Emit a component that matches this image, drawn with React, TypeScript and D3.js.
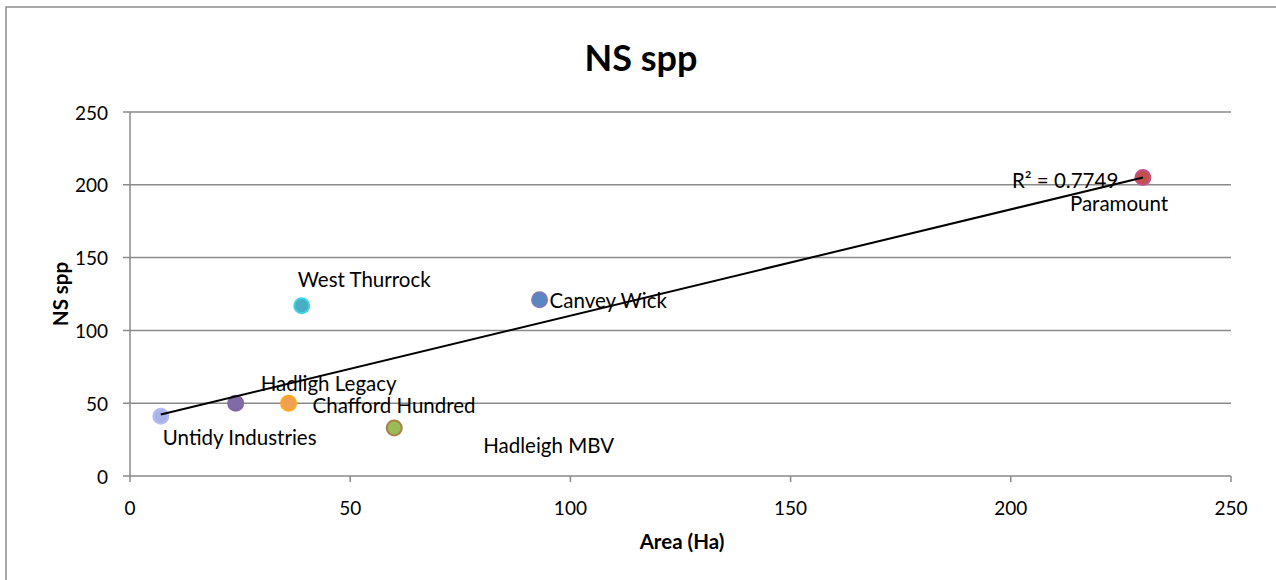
import React from "react";
import * as d3 from "d3";

const siteNames = ["Untidy Industries", "Hadligh Legacy", "Chafford Hundred", "Hadleigh MBV", "West Thurrock", "Canvey Wick", "Paramount"];
const areaHa = [7, 24, 36, 60, 39, 93, 230];
const nsSpp = [41, 50, 50, 33, 117, 121, 205];
const xTicks = [0, 50, 100, 150, 200, 250];
const yTicks = [0, 50, 100, 150, 200, 250];
const rSquaredLabel = "R² = 0.7749";

const fills = ["#a7b3e6", "#7f6ba6", "#f0a050", "#9bbb59", "#4bacc6", "#5a86c2", "#c0504d"];
const strokes = ["#b6bdf5", "#8466a6", "#ffa81a", "#a6824a", "#3cd8e2", "#7d7cbd", "#c8508a"];
// label offsets (px) relative to each point: dx to text start, dy to text middle
const labelDx = [2, 25, 24, 89, -4, 10, -73];
const labelDy = [21, -20, 2, 17, -27, 0, 25];

const W = 1276, H = 580;
const M = { left: 130, right: 1231, top: 112, bottom: 476 };
const FONT = "Lato, 'Open Sans', sans-serif";

export default function App() {
  const x = d3.scaleLinear().domain([0, 250]).range([M.left, M.right]);
  const y = d3.scaleLinear().domain([0, 250]).range([M.bottom, M.top]);

  const mx = d3.mean(areaHa)!;
  const my = d3.mean(nsSpp)!;
  const sxy = d3.sum(areaHa.map((v, i) => (v - mx) * (nsSpp[i] - my)));
  const sxx = d3.sum(areaHa.map((v) => (v - mx) ** 2));
  const slope = sxy / sxx;
  const intercept = my - slope * mx;
  const [xmin, xmax] = d3.extent(areaHa) as [number, number];
  const line = d3.line<number>().x((d) => x(d)).y((d) => y(intercept + slope * d));

  return (
    <svg width={W} height={H} style={{ position: "absolute", left: 0, top: 0, background: "#fff" }} fontFamily={FONT}>
      <rect x={6} y={7} width={1300} height={700} fill="#fff" stroke="#8c8c8c" strokeWidth={1.5} />
      <text x={641} y={57} textAnchor="middle" dominantBaseline="central" fontSize={36} fontWeight="bold" fill="#000">NS spp</text>
      {yTicks.map((t) => (
        <g key={"y" + t}>
          <line x1={M.left - 7} x2={M.right} y1={y(t)} y2={y(t)} stroke="#8a8a8a" strokeWidth={1.5} />
          <text x={108} y={y(t)} textAnchor="end" dominantBaseline="central" fontSize={19} fill="#000">{t}</text>
        </g>
      ))}
      <line x1={M.left} x2={M.left} y1={M.top} y2={M.bottom} stroke="#8a8a8a" strokeWidth={1.5} />
      {xTicks.map((t) => (
        <g key={"x" + t}>
          <line x1={x(t)} x2={x(t)} y1={M.bottom} y2={M.bottom + 6} stroke="#8a8a8a" strokeWidth={1.5} />
          <text x={x(t)} y={507} textAnchor="middle" dominantBaseline="central" fontSize={19} fill="#000">{t}</text>
        </g>
      ))}
      <text x={682} y={541} textAnchor="middle" dominantBaseline="central" fontSize={20.5} fontWeight="bold">Area (Ha)</text>
      <text transform={`translate(60,294) rotate(-90)`} textAnchor="middle" dominantBaseline="central" fontSize={20.5} fontWeight="bold">NS spp</text>
      {areaHa.map((a, i) => (
        <circle key={"c" + i} cx={x(a)} cy={y(nsSpp[i])} r={7.5} fill={fills[i]} stroke={strokes[i]} strokeWidth={2} />
      ))}
      <path d={line([xmin, xmax]) || ""} stroke="#000" strokeWidth={2} fill="none" />
      {areaHa.map((a, i) => (
        <text key={"l" + i} x={x(a) + labelDx[i]} y={y(nsSpp[i]) + labelDy[i]} dominantBaseline="central" fontSize={20.5} fill="#000">{siteNames[i]}</text>
      ))}
      <text x={x(xmax) - 131} y={y(intercept + slope * xmax) + 3} dominantBaseline="central" fontSize={20.5} fill="#000">{rSquaredLabel}</text>
    </svg>
  );
}
